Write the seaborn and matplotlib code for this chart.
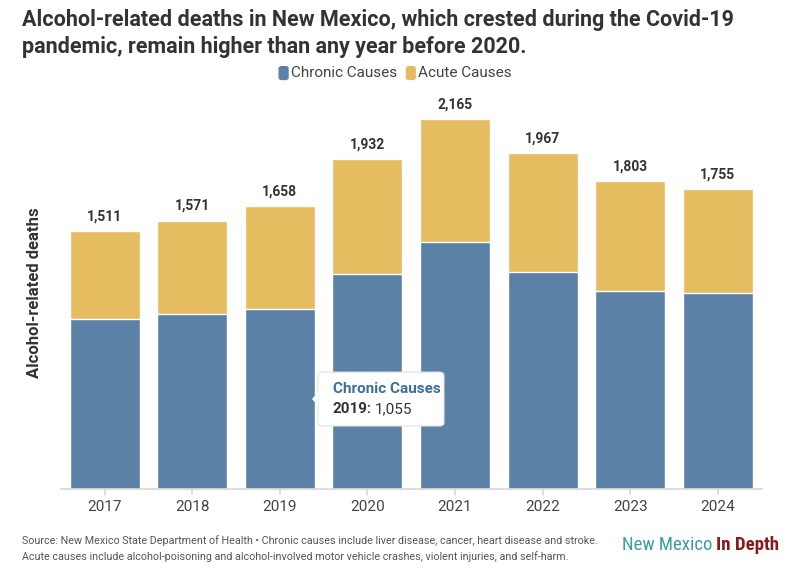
import matplotlib
matplotlib.use("Agg")
import matplotlib.pyplot as plt
from matplotlib.patches import FancyBboxPatch, Polygon
import seaborn as sns
import pandas as pd

# data
years = ["2017", "2018", "2019", "2020", "2021", "2022", "2023", "2024"]
totals = [1511, 1571, 1658, 1932, 2165, 1967, 1803, 1755]
chronic = [998, 1026, 1055, 1260, 1449, 1272, 1162, 1145]

blue = "#5b82a6"
yellow = "#e6bc60"
dark = "#333333"

df = pd.DataFrame({"year": years, "total": totals, "chronic": chronic})

sns.set_theme(style="white")
plt.rcParams["font.family"] = ["Roboto", "DejaVu Sans"]

fig = plt.figure(figsize=(8, 5.8), dpi=100)
ax = fig.add_axes([0.076, 0.157, 0.876, 0.677])

# full bar = chronic + acute, chronic drawn on top of it
sns.barplot(data=df, x="year", y="total", color=yellow, saturation=1,
            width=0.8, edgecolor="white", linewidth=1, ax=ax)
sns.barplot(data=df, x="year", y="chronic", color=blue, saturation=1,
            width=0.8, edgecolor="white", linewidth=1, ax=ax)

for i, t in enumerate(totals):
    ax.text(i, t + 45, f"{t:,}", ha="center", va="bottom", fontsize=10,
            fontweight="bold", color=dark)

ax.set_xlim(-0.5, 7.5)
ax.set_ylim(0, 2300)
ax.set_yticks([])
ax.set_xlabel("")
ax.set_ylabel("Alcohol-related deaths", fontsize=12, fontweight="bold",
              color=dark)
ax.yaxis.set_label_coords(-0.027, 0.50)
for s in ["top", "right", "left"]:
    ax.spines[s].set_visible(False)
ax.spines["bottom"].set_color("#d8d8d8")
ax.tick_params(axis="x", length=4, color="#d8d8d8", labelsize=11,
               labelcolor="#444444", pad=4, bottom=True)

# legend
fig.patches.append(FancyBboxPatch((0.349, 0.863), 0.011, 0.022,
                                  boxstyle="round,pad=0,rounding_size=0.003",
                                  color=blue, transform=fig.transFigure))
fig.text(0.364, 0.874, "Chronic Causes", fontsize=11, color="#444444", va="center")
fig.patches.append(FancyBboxPatch((0.508, 0.863), 0.011, 0.022,
                                  boxstyle="round,pad=0,rounding_size=0.003",
                                  color=yellow, transform=fig.transFigure))
fig.text(0.523, 0.874, "Acute Causes", fontsize=11, color="#444444", va="center")

# title
fig.text(0.027, 0.985, "Alcohol-related deaths in New Mexico, which crested during the Covid-19\n"
         "pandemic, remain higher than any year before 2020.",
         fontsize=15.5, fontweight="bold", color=dark, va="top", linespacing=1.3)

# tooltip
fig.patches.append(FancyBboxPatch((0.3975, 0.2655), 0.1575, 0.093,
                                  boxstyle="round,pad=0,rounding_size=0.006",
                                  fc="white", ec="#e2e2e2", lw=0.8,
                                  transform=fig.transFigure, zorder=5))
fig.patches.append(Polygon([(0.398, 0.325), (0.390, 0.312), (0.398, 0.299)],
                           closed=True, fc="white", ec="none",
                           transform=fig.transFigure, zorder=6))
fig.text(0.416, 0.329, "Chronic Causes", fontsize=11, fontweight="bold",
         color="#3b6f9c", va="center", zorder=7)
fig.text(0.416, 0.294, "2019:", fontsize=11, fontweight="bold", color=dark,
         va="center", zorder=7)
fig.text(0.469, 0.294, "1,055", fontsize=11, color=dark, va="center", zorder=7)

# footer
fig.text(0.027, 0.0545, "Source: New Mexico State Department of Health \u2022 Chronic causes include liver disease, cancer, heart disease and stroke.\n"
         "Acute causes include alcohol-poisoning and alcohol-involved motor vehicle crashes, violent injuries, and self-harm.",
         fontsize=7.75, color="#555555", va="center", linespacing=1.6)
fig.text(0.777, 0.061, "New Mexico", fontsize=13.5, color="#3c9da0", va="center",
         family=["Roboto Condensed", "Roboto", "DejaVu Sans"])
fig.text(0.895, 0.061, "In Depth", fontsize=13.5, color="#8b1a1f", fontweight="bold",
         va="center", family=["Roboto Condensed", "Roboto", "DejaVu Sans"])

fig.savefig("out.png", dpi=100)
